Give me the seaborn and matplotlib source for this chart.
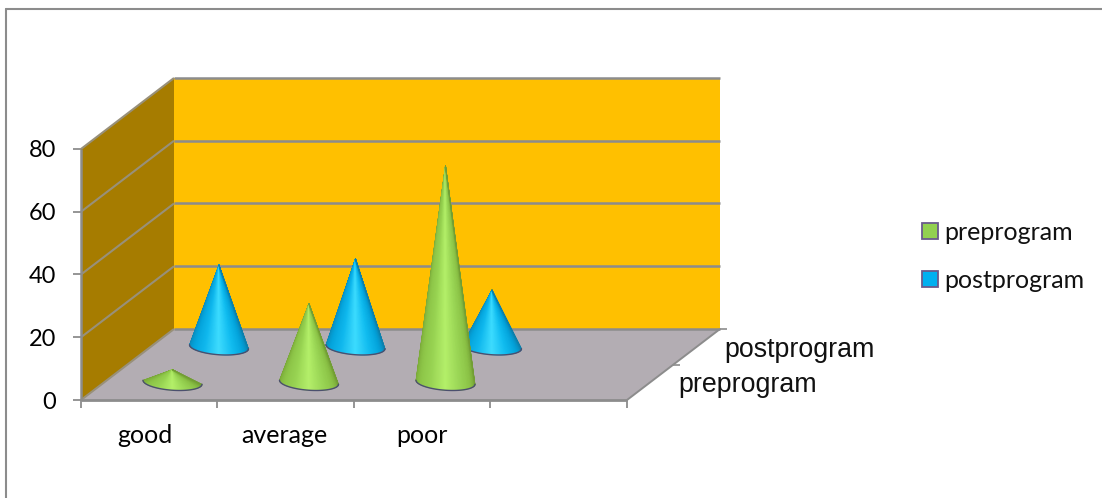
import numpy as np
import matplotlib
matplotlib.use("Agg")
import matplotlib.pyplot as plt
import seaborn as sns
from matplotlib.collections import PolyCollection
from matplotlib.colors import LinearSegmentedColormap
from matplotlib.font_manager import FontProperties
from matplotlib.lines import Line2D
from matplotlib.patches import Patch, Polygon

categories = ["good", "average", "poor"]
series_names = ["preprogram", "postprogram"]
preprogram = [4, 25, 69]
postprogram = [26, 28, 18]
value_ticks = [0, 20, 40, 60, 80]

sns.set_theme(style="white")
plt.rcParams["font.family"] = ["Lato", "DejaVu Sans"]

W, H = 1102, 498
SLOTS = 4
VMAX = 80
GRAY = "#8c8c8c"

fig = plt.figure(figsize=(W / 100, H / 100), dpi=100, facecolor="white")
ax = fig.add_axes([81 / W, 1 - 400 / H, 546 / W, 251 / H], facecolor="none")
ax.set_xlim(0, SLOTS)
ax.set_ylim(0, VMAX)

# Oblique offset of the full chart depth, in axis units
DEPTH_X = 93 / (546 / SLOTS)
DEPTH_Y = 71 / (251 / VMAX)


def project(cat, depth, value):
    """Map category position, depth (0..1) and value to front-plane axis units."""
    return cat + depth * DEPTH_X, value + depth * DEPTH_Y


def quad(points, color, z):
    ax.add_patch(Polygon([project(*p) for p in points], closed=True, facecolor=color,
                         edgecolor="none", zorder=z, clip_on=False))


def seg(p, q, color, lw, z):
    a, b = project(*p), project(*q)
    ax.add_line(Line2D([a[0], b[0]], [a[1], b[1]], color=color, lw=lw, zorder=z,
                       clip_on=False, solid_capstyle="butt"))


quad([(0, 0, 0), (SLOTS, 0, 0), (SLOTS, 1, 0), (0, 1, 0)], "#b3adb3", 1)
quad([(0, 1, 0), (SLOTS, 1, 0), (SLOTS, 1, VMAX), (0, 1, VMAX)], "#ffc000", 1)
quad([(0, 0, 0), (0, 1, 0), (0, 1, VMAX), (0, 0, VMAX)], "#a67c00", 1)

for v in value_ticks:
    seg((0, 1, v), (SLOTS, 1, v), GRAY, 1.8, 2)
    seg((0, 0, v), (0, 1, v), "#98907a", 1.5, 2)
seg((0, 0, 0), (SLOTS, 0, 0), GRAY, 2.0, 2)
seg((SLOTS, 0, 0), (SLOTS, 1, 0), GRAY, 1.4, 2)
seg((0, 0, 0), (0, 0, VMAX), GRAY, 1.8, 2)

# Depth axis ticks on the right-hand floor edge
for d in (0.5, 1.0):
    seg((SLOTS, d, 0), (SLOTS + 0.05, d, 0), GRAY, 1.2, 2)

green_map = LinearSegmentedColormap.from_list(
    "green", ["#78a636", "#8cc447", "#98d452", "#b4f069", "#9ad655", "#8bc246", "#729e34"])
blue_map = LinearSegmentedColormap.from_list(
    "blue", ["#0c86b4", "#04a4dc", "#0fb8ee", "#3cdcff", "#10bcf0", "#03a2da", "#0b80ac"])

PX_X = 546 / SLOTS
PX_Y = 251 / VMAX
RX = 29.5 / PX_X        # base ellipse half-width
RY = 8.0 / PX_Y         # base ellipse half-height
TILT = 2.0 / PX_Y       # the oblique view lifts the right end of the base


def cone(cat, depth, value, cmap, z):
    cx, cy = project(cat, depth, 0)
    apex = (cx, cy + value)
    t = np.linspace(np.pi, 2 * np.pi, 90)
    bx = cx + RX * np.cos(t)
    by = cy + RY * np.sin(t) - TILT * np.cos(t)
    fans = [[apex, (bx[i], by[i]), (bx[i + 1], by[i + 1])] for i in range(len(t) - 1)]
    shades = np.linspace(0, 1, len(fans))
    colors = cmap(shades)
    ax.add_collection(PolyCollection(fans, facecolors=colors, edgecolors=colors, linewidths=0.5,
                                     zorder=z, clip_on=False))
    ax.plot(bx, by, color="#4b4f6e", lw=1.0, zorder=z + 0.1, clip_on=False,
            solid_capstyle="round")


for i in range(len(categories)):
    cone(i + 0.5, 0.75, postprogram[i], blue_map, 3 + i * 0.2)
for i in range(len(categories)):
    cone(i + 0.5, 0.25, preprogram[i], green_map, 4 + i * 0.2)

# Axis ticks and labels
for s in ax.spines.values():
    s.set_visible(False)
ax.set_yticks(value_ticks)
ax.set_yticklabels([str(v) for v in value_ticks], fontsize=17)
ax.set_xticks(np.arange(SLOTS + 1))
ax.set_xticklabels([])
ax.set_xticks([0.47, 1.49, 2.5], minor=True)
ax.set_xticklabels(categories, minor=True, fontsize=18)
ax.tick_params(axis="y", which="major", left=True, length=6, width=1.3, color=GRAY, pad=12,
               labelcolor="black")
ax.tick_params(axis="x", which="major", bottom=True, length=6, width=1.3, color=GRAY)
ax.tick_params(axis="x", which="minor", bottom=False, length=0, pad=17, labelcolor="black")

# Series names along the depth axis
label_font = FontProperties(family="Liberation Sans", size=19.3)
for d, name in zip((0.25, 0.75), series_names):
    x, y = project(SLOTS, d, 0)
    ax.annotate(name, (x, y), xytext=(28, -3), textcoords="offset pixels",
                ha="left", va="center", fontproperties=label_font, color="#111111",
                annotation_clip=False)

# Outer frame, open on the right
frame_kw = dict(color=GRAY, lw=1.5, transform=fig.transFigure, clip_on=False)
fig.add_artist(Line2D([6 / W, 6 / W], [1 - 9 / H, 0], **frame_kw))
fig.add_artist(Line2D([6 / W, 1], [1 - 9 / H, 1 - 9 / H], **frame_kw))

handles = [Patch(facecolor="#92d050", edgecolor="#6a5a8c", lw=1.3),
           Patch(facecolor="#00b0f0", edgecolor="#6a5a8c", lw=1.3)]
fig.legend(handles, series_names, loc="center left", bbox_to_anchor=(922 / W, 1 - 256 / H),
           frameon=False, fontsize=18, handlelength=0.62, handleheight=0.62, handletextpad=0.27,
           labelspacing=1.0, borderpad=0, borderaxespad=0, labelcolor="#111111")

fig.savefig("out.png", dpi=100, facecolor="white")
